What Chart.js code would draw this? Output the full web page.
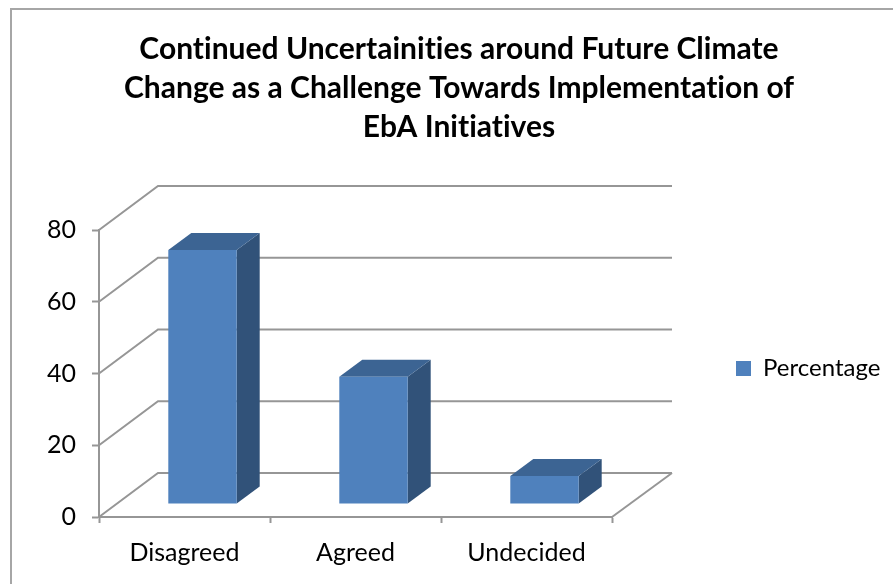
<!DOCTYPE html>
<html>
<head>
<meta charset="utf-8">
<script src="https://cdn.jsdelivr.net/npm/chart.js@4"></script>
<style>
  html, body { margin: 0; background: #fff; overflow: hidden; }
  #frame { position: absolute; left: 10px; top: 8px; width: 900px; height: 600px; border-left: 2px solid #a6a6a6; border-top: 2px solid #a6a6a6; }
  canvas { display: block; }
</style>
</head>
<body>
<div id="frame"><canvas id="chart" width="894" height="574"></canvas></div>
<script>
const categories = ["Disagreed", "Agreed", "Undecided"];
const percentage = [70.8, 35.5, 7.8];
const yTicks = [0, 20, 40, 60, 80];
const titleLines = [
  "Continued Uncertainities around Future Climate",
  "Change as a Challenge Towards Implementation of",
  "EbA Initiatives"
];

const FONT = "Lato, 'Open Sans', sans-serif";
const GRID = "#969696";
// depth of the fake 3d box, and where the bars sit inside it
const WALL_DX = 59, WALL_DY = 44;
const BAR_DX = 18, BAR_DY = 13;
const FACE_DX = 23, FACE_DY = 17;

function poly(ctx, pts, fill) {
  ctx.beginPath();
  pts.forEach((p, i) => (i ? ctx.lineTo(p[0], p[1]) : ctx.moveTo(p[0], p[1])));
  ctx.closePath();
  ctx.fillStyle = fill;
  ctx.fill();
}

const box3d = {
  id: "box3d",
  afterLayout(chart) {
    // nudge the legend: a little above the middle of the plot
    chart.legend.top -= 5;
    chart.legend.bottom -= 5;
    chart.legend.left += 6;
    chart.legend.right += 6;
  },
  beforeDraw(chart) {
    // no "ti" ligatures from Lato
    chart.ctx.letterSpacing = "0.01px";
  },
  beforeDatasetsDraw(chart) {
    const { ctx, scales: { x, y } } = chart;
    ctx.save();
    ctx.strokeStyle = GRID;
    ctx.lineWidth = 2;
    y.ticks.forEach(t => {
      const py = y.getPixelForValue(t.value);
      ctx.beginPath();
      ctx.moveTo(x.left, py);
      ctx.lineTo(x.left + WALL_DX, py - WALL_DY);
      ctx.lineTo(x.right + WALL_DX + 1, py - WALL_DY);
      ctx.stroke();
    });
    // right edge of the floor
    ctx.beginPath();
    ctx.moveTo(x.right, y.bottom);
    ctx.lineTo(x.right + WALL_DX + 1, y.bottom - WALL_DY);
    ctx.stroke();
    ctx.restore();

    // the bars are pushed back into the box, side and top faces first
    ctx.save();
    ctx.translate(BAR_DX, -BAR_DY);
    chart.getDatasetMeta(0).data.forEach(bar => {
      const l = bar.x - bar.width / 2, r = bar.x + bar.width / 2;
      poly(ctx, [[r, bar.y], [r + FACE_DX, bar.y - FACE_DY], [r + FACE_DX, bar.base - FACE_DY], [r, bar.base]], "#315279");
      poly(ctx, [[l, bar.y], [l + FACE_DX, bar.y - FACE_DY], [r + FACE_DX, bar.y - FACE_DY], [r, bar.y]], "#3C6493");
    });
  },
  afterDatasetsDraw(chart) {
    chart.ctx.restore();
  }
};

new Chart(document.getElementById("chart"), {
  type: "bar",
  data: {
    labels: categories,
    datasets: [{
      label: "Percentage",
      data: percentage,
      backgroundColor: "#4F81BD",
      barPercentage: 0.4,
      categoryPercentage: 1,
      clip: false
    }]
  },
  options: {
    responsive: false,
    animation: false,
    layout: { padding: { left: 26, right: 26, top: 20, bottom: 17 } },
    plugins: {
      title: {
        display: true,
        text: titleLines,
        color: "#000",
        font: { family: FONT, size: 30, weight: "bold", lineHeight: 1.3 },
        padding: { top: 0, bottom: 83 }
      },
      legend: {
        position: "right",
        fullSize: false,
        maxWidth: 150,
        labels: {
          color: "#000",
          font: { family: FONT, size: 24 },
          boxWidth: 15,
          boxHeight: 15,
          padding: 0
        }
      },
      tooltip: { enabled: false }
    },
    scales: {
      x: {
        grid: { offset: true, drawOnChartArea: false, color: GRID, tickLength: 6, tickWidth: 2 },
        border: { color: GRID, width: 2 },
        ticks: { color: "#000", font: { family: FONT, size: 25 }, padding: 15, maxRotation: 0 },
        afterFit: s => { s.height = 50; }
      },
      y: {
        min: 0,
        max: 80,
        afterBuildTicks: s => { s.ticks = yTicks.map(value => ({ value })); },
        grid: { drawOnChartArea: false, color: GRID, tickLength: 7, tickWidth: 2 },
        border: { color: GRID, width: 2 },
        ticks: { color: "#000", font: { family: FONT, size: 25 }, padding: 16 },
        afterFit: s => { s.width = 61; }
      },
      // empty axis, holds the gap between the box and the legend
      gap: {
        position: "right",
        grid: { display: false },
        border: { display: false },
        ticks: { display: false },
        afterFit: s => { s.width = 118; }
      }
    }
  },
  plugins: [box3d]
});
</script>
</body>
</html>
